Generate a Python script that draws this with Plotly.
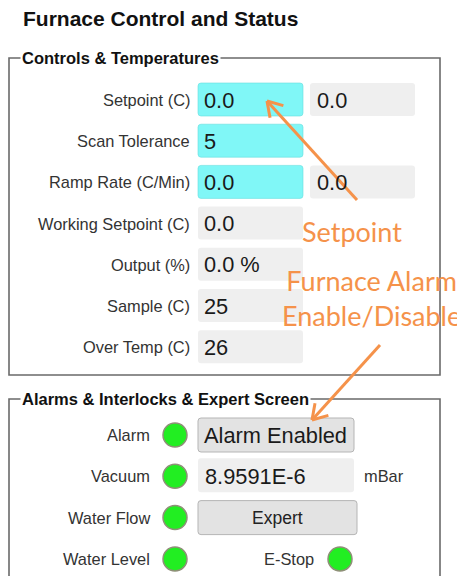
import math
import plotly.graph_objects as go

# ---------------- data ----------------
title_text = "Furnace Control and Status"
group_titles = ["Controls & Temperatures", "Alarms & Interlocks & Expert Screen"]

control_labels = ["Setpoint (C)", "Scan Tolerance", "Ramp Rate (C/Min)",
                  "Working Setpoint (C)", "Output (%)", "Sample (C)", "Over Temp (C)"]
control_values = ["0.0", "5", "0.0", "0.0", "0.0 %", "25", "26"]
control_editable = [True, True, True, False, False, False, False]
readback_values = ["0.0", None, "0.0", None, None, None, None]

alarm_labels = ["Alarm", "Vacuum", "Water Flow", "Water Level"]
alarm_widgets = ["button", "field", "button", None]
alarm_texts = ["Alarm Enabled", "8.9591E-6", "Expert", None]
alarm_units = [None, "mBar", None, None]
estop_label = "E-Stop"

callout_texts = ["Setpoint", "Furnace Alarm<br>Enable/Disable"]

# ---------------- styling / layout ----------------
W, H = 465, 576
OFF = 8  # page body margin
SANS = "Liberation Sans, Arial, sans-serif"
LABEL_FONT = dict(family=SANS, size=16.4, color="#333333")
VALUE_FONT = dict(family=SANS, size=21.8, color="#1a1a1a")
ORANGE = "#F5924A"
CALLOUT_FONT = dict(family="Lato, Carlito, sans-serif", size=27, color=ORANGE)
CYAN = "#80F7F7"
GRAY = "#EFEFEF"
GREEN = "#22EE22"

shapes = []
annotations = []


def rrect(x0, y0, x1, y1, r=3):
    return (f"M{x0+r},{y0} L{x1-r},{y0} Q{x1},{y0} {x1},{y0+r} L{x1},{y1-r} "
            f"Q{x1},{y1} {x1-r},{y1} L{x0+r},{y1} Q{x0},{y1} {x0},{y1-r} "
            f"L{x0},{y0+r} Q{x0},{y0} {x0+r},{y0} Z")


def box(x0, y0, x1, y1, fill, line="rgba(0,0,0,0)", lw=0):
    shapes.append(dict(type="path", path=rrect(x0, y0, x1, y1), xref="x", yref="y",
                       fillcolor=fill, line=dict(color=line, width=lw), layer="below"))


def text(x, y, s, font, xanchor="left"):
    annotations.append(dict(x=x, y=y, xref="x", yref="y", text=s, showarrow=False,
                            xanchor=xanchor, yanchor="middle", font=font))


def arrow(x_tip, y_tip, x_tail, y_tail, head=17, ang=32):
    shapes.append(dict(type="line", x0=x_tail, y0=y_tail, x1=x_tip, y1=y_tip, xref="x", yref="y",
                       line=dict(color=ORANGE, width=3)))
    th = math.atan2(y_tail - y_tip, x_tail - x_tip)
    for s in (-1, 1):
        a = th + s * math.radians(ang)
        shapes.append(dict(type="line", x0=x_tip, y0=y_tip,
                           x1=x_tip + head * math.cos(a), y1=y_tip + head * math.sin(a),
                           xref="x", yref="y", line=dict(color=ORANGE, width=3)))


# Title
annotations.append(dict(x=21, y=18, xref="x", yref="y", text=f"<b>{title_text}</b>",
                        showarrow=False, xanchor="left", yanchor="middle",
                        font=dict(family=SANS, size=21, color="#111111")))

# Group boxes
group_tops = [58, 399]
group_bottoms = [375, 600]
for gt, gb, gtitle in zip(group_tops, group_bottoms, group_titles):
    shapes.append(dict(type="rect", x0=9, x1=440, y0=gt, y1=gb, xref="x", yref="y",
                       line=dict(color="#6a6a6a", width=1.6), fillcolor="rgba(0,0,0,0)", layer="below"))
    annotations.append(dict(x=20, y=gt, xref="x", yref="y", text=f"<b>{gtitle}</b>",
                            showarrow=False, xanchor="left", yanchor="middle", bgcolor="white",
                            borderpad=1,
                            font=dict(family=SANS, size=16.5, color="#111111")))

# Controls rows
row0, dy = 100, 41.2
for i, (lab, val, ed, rb) in enumerate(zip(control_labels, control_values, control_editable, readback_values)):
    yc = row0 + i * dy
    text(192, yc, lab, LABEL_FONT, xanchor="right")
    box(198, yc - 17, 303, yc + 16, CYAN if ed else GRAY,
        line="#66DDDD" if ed else "rgba(0,0,0,0)", lw=0.6 if ed else 0)
    text(202, yc, val, VALUE_FONT)
    if rb is not None:
        box(310, yc - 17, 415, yc + 16, GRAY)
        text(315, yc, rb, VALUE_FONT)

# Alarm rows
arow0, ady = 435, 41.3
for i, (lab, wid, txt, unit) in enumerate(zip(alarm_labels, alarm_widgets, alarm_texts, alarm_units)):
    yc = arow0 + i * ady
    text(152, yc, lab, LABEL_FONT, xanchor="right")
    shapes.append(dict(type="circle", x0=163, x1=187, y0=yc - 12, y1=yc + 12, xref="x", yref="y",
                       fillcolor=GREEN, line=dict(color="#8f8f78", width=1.5)))
    if wid == "button":
        x1 = 354 if i == 0 else 357
        box(198, yc - 17, x1, yc + 17, "#E3E3E3", line="#B5B5B5", lw=1)
        if i == 0:
            text(202, yc, txt, VALUE_FONT)
        else:
            text((198 + x1) / 2, yc, txt, dict(LABEL_FONT, size=17.5, color="#222222"), xanchor="center")
    elif wid == "field":
        box(198, yc - 18, 354, yc + 16, GRAY)
        text(203, yc, txt, VALUE_FONT)
    if unit:
        text(362, yc, unit, LABEL_FONT)

# E-Stop on last row
ye = arow0 + 3 * ady
text(316, ye, estop_label, LABEL_FONT, xanchor="right")
shapes.append(dict(type="circle", x0=328, x1=352, y0=ye - 12, y1=ye + 12, xref="x", yref="y",
                   fillcolor=GREEN, line=dict(color="#8f8f78", width=1.5)))

# Callouts
annotations.append(dict(x=300, y=231, xref="x", yref="y", text=callout_texts[0], showarrow=False,
                        xanchor="left", yanchor="middle", font=CALLOUT_FONT))
annotations.append(dict(x=371, y=298, xref="x", yref="y", text=callout_texts[1], showarrow=False,
                        xanchor="center", yanchor="middle", font=CALLOUT_FONT, align="center"))
arrow(267, 101, 357, 200)
arrow(312, 420, 380, 345)

fig = go.Figure()
fig.update_layout(
    width=W, height=H, margin=dict(l=0, r=0, t=0, b=0),
    paper_bgcolor="white", plot_bgcolor="white",
    xaxis=dict(range=[OFF, W + OFF], visible=False, fixedrange=True),
    yaxis=dict(range=[H + OFF, OFF], visible=False, fixedrange=True),
    shapes=shapes, annotations=annotations, showlegend=False,
)
fig.write_html("out.html", config=dict(displayModeBar=False))
